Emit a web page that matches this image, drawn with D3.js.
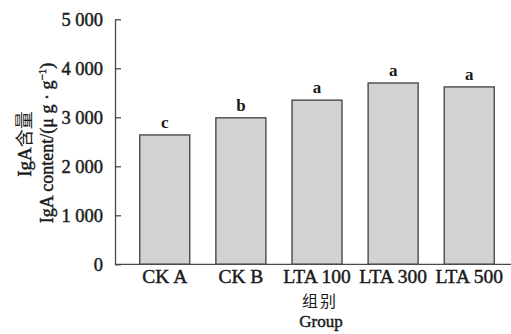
<!DOCTYPE html>
<html>
<head>
<meta charset="utf-8">
<script src="https://cdn.jsdelivr.net/npm/d3@7"></script>
<style>
  html, body { margin: 0; padding: 0; background: #fff; }
  svg { display: block; }
</style>
</head>
<body>
<svg id="chart" width="511" height="334"></svg>
<script>
// IgA content by treatment group
const groups = ["CK A", "CK B", "LTA 100", "LTA 300", "LTA 500"];
const igaValues = [2640, 2990, 3350, 3700, 3620];
const sigLetters = ["c", "b", "a", "a", "a"];
const yTicks = [0, 1000, 2000, 3000, 4000, 5000];

const SERIF = "'Liberation Serif', 'Times New Roman', serif";
const CJK = "'Noto Sans CJK SC', sans-serif";
const INK = "#1a1a1a";

const svg = d3.select("#chart");
const W = 511;
const axisX = 115, baseY = 264.3, topY = 19.3;

const y = d3.scaleLinear().domain([0, 5000]).range([baseY, topY]);
const x = d3.scaleBand().domain(groups).range([axisX, 519])
  .paddingInner(0.343).paddingOuter(0.325);

const fmt = v => v === 0 ? "0" : d3.format(",")(v).replace(/,/g, " ");

// slightly heavier serif text
const heavy = sel => sel.style("stroke", INK).style("stroke-width", "0.45px");

// bars
svg.append("g").selectAll("rect").data(groups).join("rect")
  .attr("x", d => x(d))
  .attr("y", (d, i) => y(igaValues[i]))
  .attr("width", x.bandwidth())
  .attr("height", (d, i) => baseY - y(igaValues[i]))
  .attr("fill", "#d2d2d2")
  .attr("stroke", "#4a4a4a")
  .attr("stroke-width", 1.4);

// significance letters
svg.append("g").selectAll("text").data(groups).join("text")
  .attr("x", d => x(d) + x.bandwidth() / 2)
  .attr("y", (d, i) => y(igaValues[i]) - 7)
  .attr("text-anchor", "middle")
  .style("font-family", SERIF).style("font-size", "17px").style("font-weight", "bold")
  .style("fill", INK)
  .text((d, i) => sigLetters[i]);

// y axis
const yAxis = d3.axisLeft(y).tickValues(yTicks).tickSizeInner(-6).tickSizeOuter(0)
  .tickPadding(12).tickFormat(fmt);
const gy = svg.append("g").attr("transform", `translate(${axisX},0)`).call(yAxis);
gy.select(".domain").attr("stroke", "#4a4a4a").attr("stroke-width", 1.3);
gy.selectAll(".tick line").attr("stroke", "#4a4a4a").attr("stroke-width", 1.3);
gy.selectAll(".tick text")
  .style("font-family", SERIF).style("font-size", "18.5px").style("fill", INK)
  .call(heavy);

// x axis
const xAxis = d3.axisBottom(x).tickSize(0).tickPadding(5);
const gx = svg.append("g").attr("transform", `translate(0,${baseY})`).call(xAxis);
gx.select(".domain").remove();
gx.selectAll(".tick text")
  .style("font-family", SERIF).style("font-size", "19.5px")
  .style("fill", INK).call(heavy);
svg.append("line")
  .attr("x1", axisX).attr("x2", W).attr("y1", baseY).attr("y2", baseY)
  .attr("stroke", "#4a4a4a").attr("stroke-width", 1.3);

// x axis title
svg.append("text").attr("x", 320).attr("y", 306.5)
  .attr("text-anchor", "middle")
  .style("font-family", CJK).style("font-size", "16px").style("fill", INK)
  .style("letter-spacing", "2px")
  .text("组别");
svg.append("text").attr("x", 321).attr("y", 326.5)
  .attr("text-anchor", "middle")
  .style("font-family", SERIF).style("font-size", "17px").style("fill", INK)
  .call(heavy)
  .text("Group");

// y axis title (two lines, rotated)
const t1 = svg.append("text")
  .attr("transform", "translate(31,144) rotate(-90)")
  .attr("text-anchor", "middle")
  .style("font-family", SERIF).style("font-size", "19px").style("fill", INK);
t1.append("tspan").call(heavy).text("IgA");
t1.append("tspan").style("font-family", CJK).style("font-size", "18px")
  .style("fill", INK).text("含量");

const t2 = svg.append("text")
  .attr("transform", "translate(53,143) rotate(-90)")
  .attr("text-anchor", "middle")
  .style("font-family", SERIF).style("font-size", "18px").style("fill", INK)
  .call(heavy);
t2.append("tspan").text("IgA content/(\u03bc g \u00b7 g");
t2.append("tspan").attr("dy", -7).style("font-size", "11px").text("\u22121");
t2.append("tspan").attr("dy", 7).text(")");
</script>
</body>
</html>
